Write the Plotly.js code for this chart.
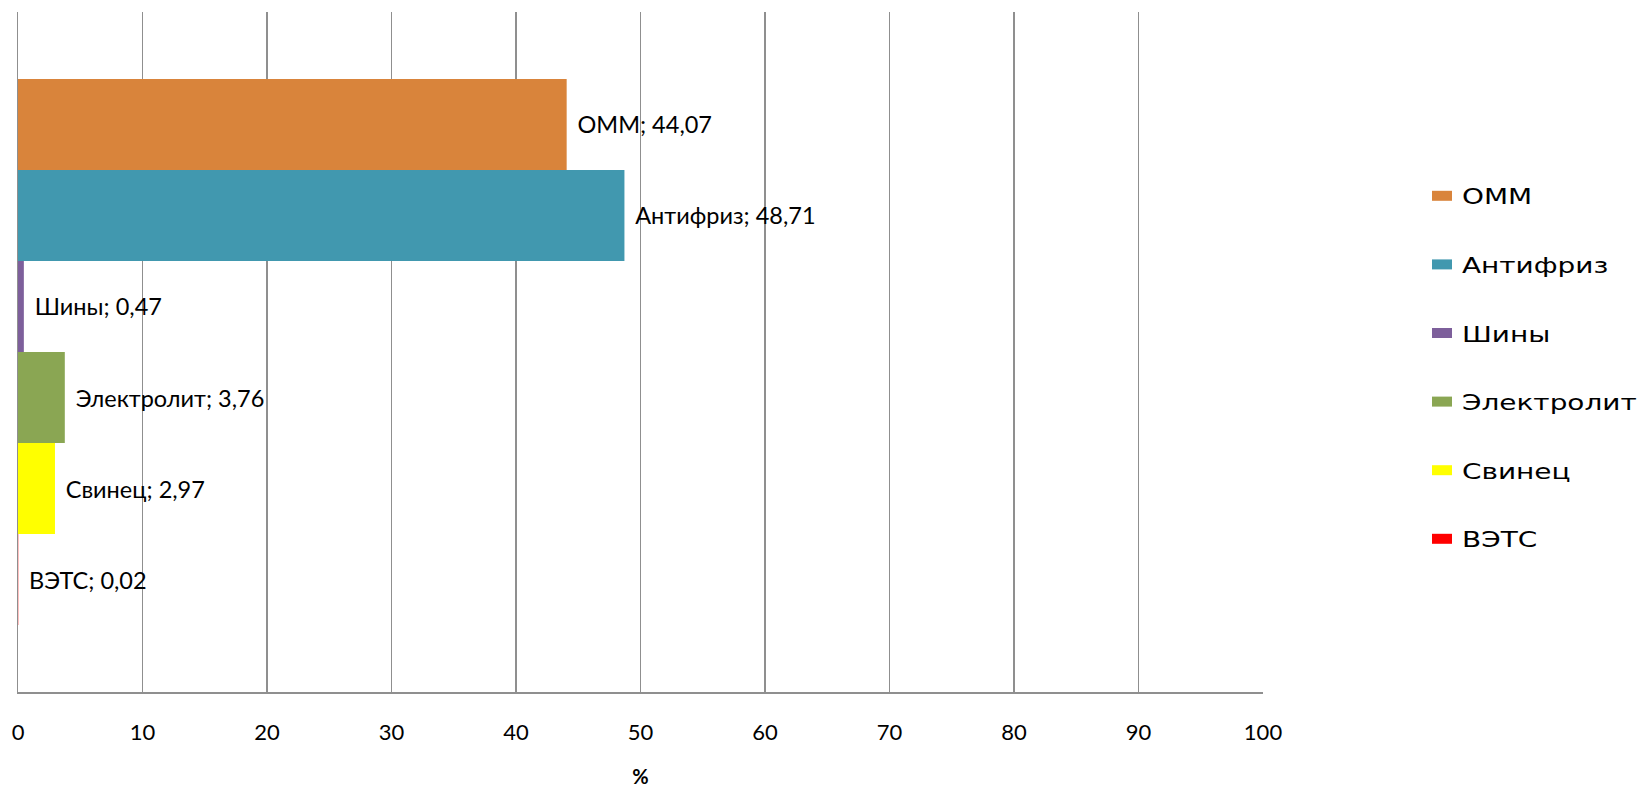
<!DOCTYPE html>
<html>
<head>
<meta charset="utf-8">
<script src="https://cdn.plot.ly/plotly-3.0.1.min.js"></script>
<style>
  html, body { margin: 0; padding: 0; background: #fff; }
  #chart { width: 1638px; height: 789px; }
  /* wide legend lettering */
  #chart .legend .legendtext {
    transform-box: fill-box;
    transform-origin: left center;
    transform: scaleX(1.27);
  }
  #chart .legend .scrollbox { clip-path: none !important; }
</style>
</head>
<body>
<div id="chart"></div>
<script>
// Доля компонентов отходов, %
const categories = ['ОММ', 'Антифриз', 'Шины', 'Электролит', 'Свинец', 'ВЭТС'];
const shares = [44.07, 48.71, 0.47, 3.76, 2.97, 0.02];
const colors = ['#D9843B', '#4198AF', '#7D5F9B', '#8AA653', '#FFFF00', '#FF0000'];
const xTicks = [0, 10, 20, 30, 40, 50, 60, 70, 80, 90, 100];

// Bars are listed bottom-up so that the first category sits at the top of the cluster
const traces = [];
for (let i = categories.length - 1; i >= 0; i--) {
  traces.push({
    type: 'bar',
    orientation: 'h',
    name: categories[i],
    legendgroup: categories[i],
    legendrank: i + 1,
    x: [shares[i]],
    y: [''],
    customdata: [categories[i]],
    marker: { color: colors[i], line: { width: 0 } },
    texttemplate: '\u2004%{customdata}; %{x:.2f}',
    textposition: 'outside',
    cliponaxis: false,
    textfont: { family: 'Lato, sans-serif', size: 23.5, color: '#000' },
    hoverinfo: 'x+name'
  });
}

const layout = {
  width: 1638,
  height: 789,
  separators: ', ',
  barmode: 'group',
  bargap: 0.197,
  bargroupgap: 0,
  margin: { l: 18, r: 375, t: 12, b: 97 },
  paper_bgcolor: '#ffffff',
  plot_bgcolor: '#ffffff',
  font: { family: 'Lato, sans-serif', color: '#000' },
  xaxis: {
    range: [0, 100],
    tickvals: xTicks,
    ticktext: xTicks.map(String),
    showgrid: true,
    gridcolor: '#8f8f8f',
    gridwidth: 1.5,
    zeroline: false,
    showline: true,
    linecolor: '#8f8f8f',
    linewidth: 1.5,
    ticks: '',
    ticklabelstandoff: 20,
    tickfont: { family: 'Lato, sans-serif', size: 22, color: '#000' },
    title: {
      text: '%',
      font: { family: 'Lato, sans-serif', size: 20, color: '#000', weight: 'bold' },
      standoff: 26
    }
  },
  yaxis: {
    type: 'category',
    range: [-0.5, 0.5],
    showticklabels: false,
    showgrid: false,
    zeroline: false,
    showline: true,
    linecolor: '#8f8f8f',
    linewidth: 1.5,
    ticks: ''
  },
  showlegend: true,
  legend: {
    xref: 'container',
    yref: 'container',
    x: 1422 / 1638,
    y: 1 - 175 / 789,
    xanchor: 'left',
    yanchor: 'top',
    traceorder: 'grouped',
    tracegroupgap: 37,
    font: { family: 'DejaVu Sans, Verdana, sans-serif', size: 22, color: '#000' },
    bgcolor: 'rgba(0,0,0,0)'
  }
};

// Flat 20x10 legend swatches
function flattenSwatches() {
  document.querySelectorAll('#chart .legend .legendpoints path').forEach(function (p) {
    p.setAttribute('d', 'M10,5H-10V-5H10Z');
  });
}

Plotly.newPlot('chart', traces, layout, { displayModeBar: false, staticPlot: true })
  .then(function (gd) {
    flattenSwatches();
    gd.on('plotly_afterplot', flattenSwatches);
  });
</script>
</body>
</html>
